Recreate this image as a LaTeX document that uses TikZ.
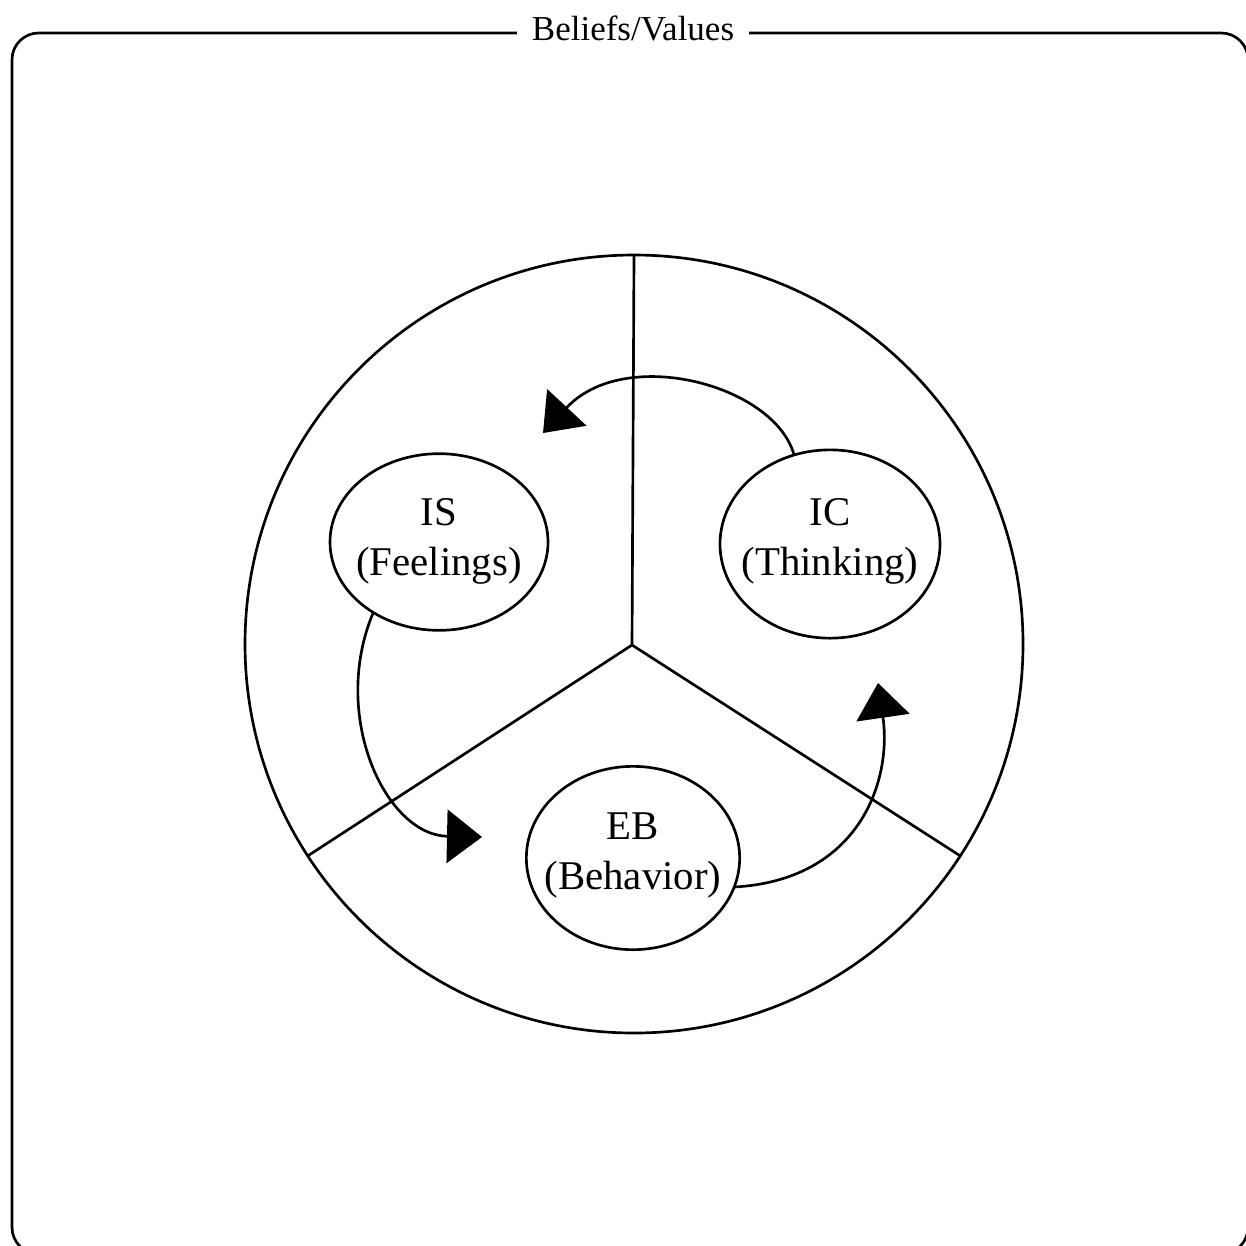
\documentclass[tikz,border=0pt]{standalone}
\usepackage{fontspec}
\setmainfont{Liberation Serif}
\usetikzlibrary{shapes.geometric,arrows.meta}
\begin{document}
\begin{tikzpicture}[x=0.6pt,y=-0.6pt,line width=1.6pt,
  frame/.style={draw,rounded corners=16pt},
  bubble/.style={draw,ellipse,inner sep=0pt,outer sep=0pt},
  bubbletext/.style={align=center,inner sep=0pt,font=\fontsize{24.5}{30}\selectfont},
  flow/.style={-{Triangle[length=21pt,width=32pt]},line width=1.6pt},
  divider/.style={line width=1.6pt}]
\useasboundingbox (0,0) rectangle (1246,1245);
\draw[frame] (12,33) rectangle (1248,1254);
\node[fill=white,inner xsep=9pt,inner ysep=2pt,anchor=base,
  font=\fontsize{21}{25}\selectfont] (title) at (633,40) {Beliefs/Values};
% big circle
\node[draw,circle,inner sep=0pt,outer sep=0pt,minimum size=466.8pt] (big) at (634,644) {};
\coordinate (hub) at (632,645);
\draw[divider] (hub) -- (big.90);
\draw[divider] (hub) -- (big.213);
\draw[divider] (hub) -- (big.327);
% bubbles
\node[bubble,minimum width=130.8pt,minimum height=106pt] (is) at (439,542) {};
\node[bubble,minimum width=132pt,minimum height=113pt] (ic) at (830,544) {};
\node[bubble,minimum width=128pt,minimum height=110pt] (eb) at (633,858) {};
\node[bubbletext] (istext) at (439,541) {IS\\(Feelings)};
\node[bubbletext] (ictext) at (830,541) {IC\\(Thinking)};
\node[bubbletext] (ebtext) at (633,855) {EB\\(Behavior)};
% arrow tips
\coordinate (t1) at (543,433);
\coordinate (t2) at (482,837);
\coordinate (t3) at (878,683);
\draw[flow] (ic.112) .. controls (775,385) and (625,345) .. (t1);
\draw[flow] (is.227) .. controls (330,715) and (385,835) .. (t2);
\draw[flow] (eb.-16) .. controls (860,880) and (892,780) .. (t3);
\end{tikzpicture}
\end{document}
